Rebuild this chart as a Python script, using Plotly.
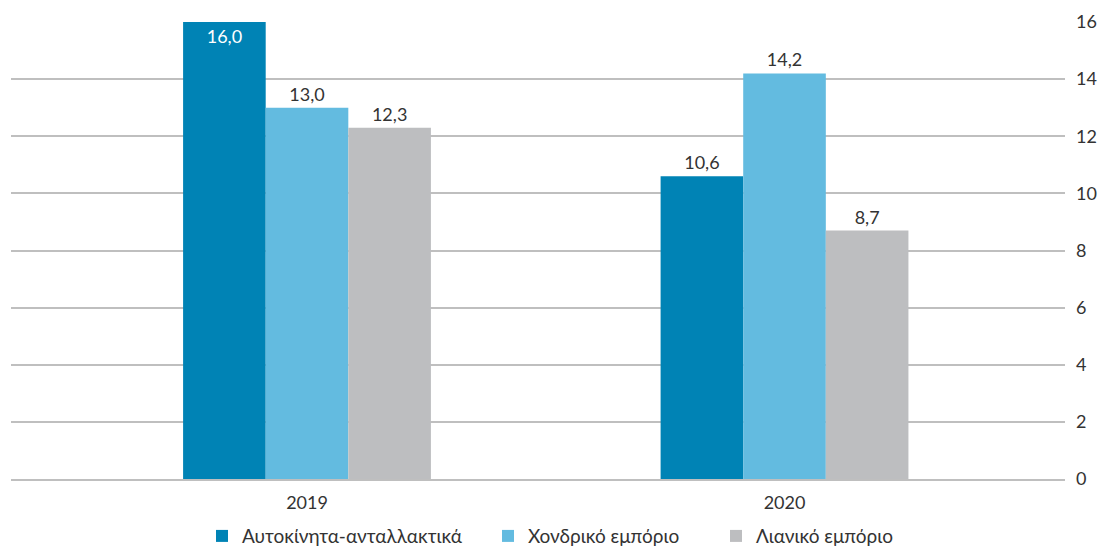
import plotly.graph_objects as go

years = ["2019", "2020"]
series_names = ["Αυτοκίνητα-ανταλλακτικά", "Χονδρικό εμπόριο", "Λιανικό εμπόριο"]
auto_parts = [16.0, 10.6]
wholesale = [13.0, 14.2]
retail = [12.3, 8.7]
y_ticks = [0, 2, 4, 6, 8, 10, 12, 14, 16]

colors = ["#0083B5", "#63BBE0", "#BDBEC0"]
font_family = "Lato, 'Open Sans', sans-serif"

# one legend per series so each entry can be placed on its own
legend_ids = ["legend", "legend2", "legend3"]
legend_x = [202, 488, 716]

fig = go.Figure()
for name, vals, col, lg in zip(series_names, [auto_parts, wholesale, retail], colors, legend_ids):
    positions = ["inside" if v >= 16 else "outside" for v in vals]
    fig.add_trace(go.Bar(
        x=years, y=vals, name=name, legend=lg, showlegend=True,
        marker=dict(color=col, line=dict(width=0)),
        texttemplate="%{y:.1f}",
        textposition=positions,
        insidetextanchor="end",
        insidetextfont=dict(size=18, color="white", family=font_family),
        outsidetextfont=dict(size=18, color="#333333", family=font_family),
        cliponaxis=False,
    ))

legend_style = dict(
    orientation="h",
    xanchor="left", xref="container",
    y=0.02, yanchor="middle", yref="container",
    font=dict(size=19, color="#333333"),
    itemwidth=30,
    bgcolor="rgba(0,0,0,0)",
)

fig.update_layout(
    width=1109, height=547,
    showlegend=True,
    margin=dict(l=11, r=44, t=22, b=68, autoexpand=False),
    paper_bgcolor="white", plot_bgcolor="white",
    separators=",.",
    barmode="group",
    bargap=0.481, bargroupgap=0,
    font=dict(family=font_family, size=17, color="#333333"),
    xaxis=dict(
        type="category",
        range=[-0.6199, 1.5874],
        showgrid=False,
        showline=True, linecolor="#BFBFBF", linewidth=2,
        ticks="outside", ticklen=6, tickcolor="rgba(0,0,0,0)",
        tickfont=dict(size=18, color="#333333"),
    ),
    yaxis=dict(
        side="right",
        range=[0, 16],
        tickvals=y_ticks,
        showgrid=True, gridcolor="#BFBFBF", gridwidth=1.5,
        zeroline=False,
        showline=False,
        ticks="",
        ticklabelstandoff=10,
        tickfont=dict(size=18, color="#333333"),
    ),
    legend=dict(legend_style, x=legend_x[0] / 1109),
    legend2=dict(legend_style, x=legend_x[1] / 1109),
    legend3=dict(legend_style, x=legend_x[2] / 1109),
)

fig.write_html("out.html")
